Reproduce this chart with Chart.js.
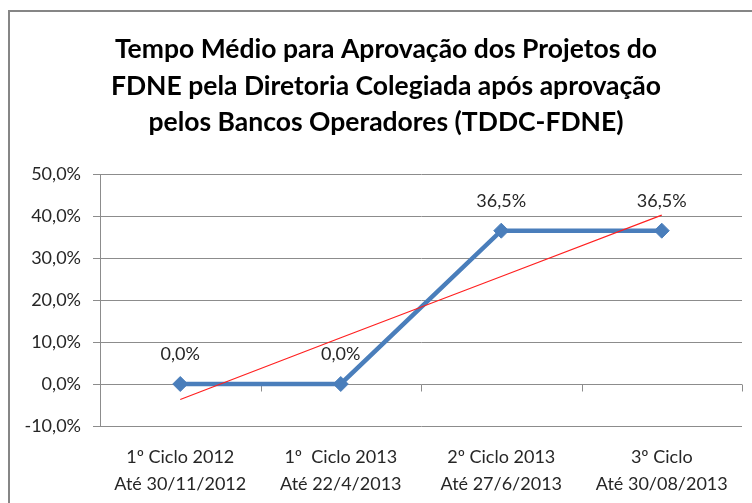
<!DOCTYPE html>
<html lang="pt">
<head>
    <meta charset="UTF-8">
    <title>TDDC-FDNE</title>
    <style>
        html, body {
            margin: 0;
            padding: 0;
            background: #ffffff;
            overflow: hidden;
        }
        #frame {
            position: absolute;
            left: 8px;
            top: 10px;
            width: 900px;
            height: 700px;
            border-left: 2px solid #868686;
            border-top: 2px solid #868686;
        }
        #chart {
            position: absolute;
            left: 0;
            top: 0;
        }
    </style>
    <script src="https://cdn.jsdelivr.net/npm/chart.js"></script>
</head>
<body>
    <div id="frame"></div>
    <canvas id="chart" width="752" height="503"></canvas>

    <script>
        // dados
        const categorias = [
            ['1º Ciclo 2012', 'Até 30/11/2012'],
            ['1º  Ciclo 2013', 'Até 22/4/2013'],
            ['2º Ciclo 2013', 'Até 27/6/2013'],
            ['3º Ciclo', 'Até 30/08/2013']
        ];
        const valores = [0.0, 0.0, 36.5, 36.5];
        const tendencia = [-3.7, 11.0, 25.6, 40.2];   // linha de tendência linear (vermelha)
        const yTicks = [-10, 0, 10, 20, 30, 40, 50];
        const titulo = [
            'Tempo Médio para Aprovação dos Projetos do',
            'FDNE pela Diretoria Colegiada após aprovação',
            'pelos Bancos Operadores (TDDC-FDNE)'
        ];

        const fonte = 'Lato, "Open Sans", sans-serif';
        const cinza = '#8c8c8c';
        const texto = '#262626';

        function pct(v) {
            return v.toFixed(1).replace('.', ',') + '%';
        }

        // título centrado na moldura do gráfico (que passa da borda direita)
        const tituloPlugin = {
            id: 'tituloPlugin',
            afterDraw(chart) {
                const ctx = chart.ctx;
                ctx.save();
                ctx.font = 'bold 26.5px ' + fonte;
                ctx.fillStyle = '#000000';
                ctx.textAlign = 'center';
                ctx.textBaseline = 'alphabetic';
                titulo.forEach((linha, i) => {
                    ctx.fillText(linha, 386, 58 + i * 36.5);
                });
                ctx.restore();
            }
        };

        // rótulos de dados acima dos pontos
        const rotulos = {
            id: 'rotulos',
            afterDatasetsDraw(chart) {
                const meta = chart.getDatasetMeta(1);
                const ctx = chart.ctx;
                ctx.save();
                ctx.font = '18px ' + fonte;
                ctx.fillStyle = texto;
                ctx.textAlign = 'center';
                ctx.textBaseline = 'middle';
                meta.data.forEach((p, i) => {
                    ctx.fillText(pct(valores[i]), p.x, p.y - 30);
                });
                ctx.restore();
            }
        };

        // eixo horizontal cruzando em 0 com marcas entre categorias
        const eixoZero = {
            id: 'eixoZero',
            beforeDatasetsDraw(chart) {
                const x = chart.scales.x, y = chart.scales.y;
                const y0 = Math.round(y.getPixelForValue(0)) + 0.5;
                const ctx = chart.ctx;
                ctx.save();
                ctx.strokeStyle = cinza;
                ctx.lineWidth = 1;
                ctx.beginPath();
                for (let i = 0; i <= categorias.length; i++) {
                    const px = Math.round(x.getPixelForValue(i - 0.5)) + 0.5;
                    ctx.moveTo(px, y0);
                    ctx.lineTo(px, y0 + 7);
                }
                ctx.stroke();
                ctx.restore();
            }
        };

        new Chart(document.getElementById('chart'), {
            type: 'line',
            data: {
                labels: categorias,
                datasets: [{
                    label: 'Tendência',
                    data: tendencia,
                    borderColor: '#ff2020',
                    borderWidth: 1.2,
                    pointRadius: 0,
                    order: 0
                }, {
                    label: 'TDDC-FDNE',
                    data: valores,
                    borderColor: '#4a7ebb',
                    backgroundColor: '#4a7ebb',
                    borderWidth: 4.5,
                    pointStyle: 'rectRot',
                    pointRadius: 7.5,
                    pointBorderWidth: 1,
                    order: 1
                }]
            },
            options: {
                responsive: false,
                animation: false,
                layout: {
                    padding: { left: 20, right: 10, top: 174, bottom: -13 }
                },
                plugins: {
                    legend: { display: false },
                    tooltip: { enabled: false },
                    title: { display: false }
                },
                scales: {
                    x: {
                        offset: true,
                        grid: { display: false, drawTicks: false },
                        border: { display: false },
                        ticks: {
                            color: texto,
                            font: { family: fonte, size: 18, lineHeight: 1.5 },
                            padding: 18,
                            maxRotation: 0
                        }
                    },
                    y: {
                        min: -10,
                        max: 50,
                        afterBuildTicks(axis) {
                            axis.ticks = yTicks.map(v => ({ value: v }));
                        },
                        afterFit(axis) {
                            axis.width = 80;
                        },
                        grid: { color: cinza, tickLength: 7 },
                        border: { color: cinza },
                        ticks: {
                            color: texto,
                            font: { family: fonte, size: 18 },
                            padding: 12,
                            callback: v => pct(v)
                        }
                    }
                }
            },
            plugins: [eixoZero, rotulos, tituloPlugin]
        });
    </script>
</body>
</html>
